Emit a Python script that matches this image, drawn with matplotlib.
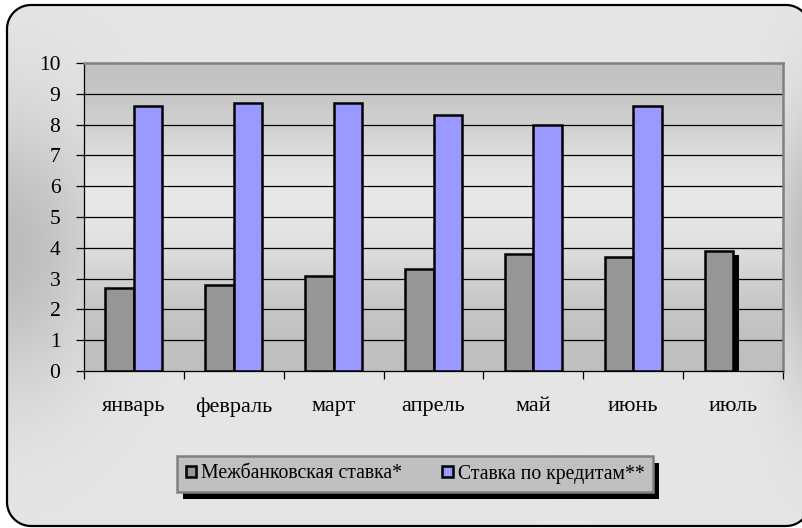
import numpy as np
import matplotlib
matplotlib.use("Agg")
import matplotlib.pyplot as plt
from matplotlib.patches import Polygon, Rectangle
from matplotlib.transforms import ScaledTranslation, IdentityTransform

# ---- data ----
months = ["январь", "февраль", "март", "апрель", "май", "июнь", "июль"]
interbank = [2.7, 2.8, 3.1, 3.3, 3.8, 3.7, 3.9]
credit = [8.6, 8.7, 8.7, 8.3, 8.0, 8.6, None]
series_names = ["Межбанковская ставка*", "Ставка по кредитам**"]
y_ticks = [0, 1, 2, 3, 4, 5, 6, 7, 8, 9, 10]

plt.rcParams['font.family'] = ['Liberation Serif', 'DejaVu Serif']
FSX = 16
FSY = 15.5
FSL = 14.2

W, H, DPI = 802, 528, 100
fig = plt.figure(figsize=(W / DPI, H / DPI), dpi=DPI)
fig.patch.set_facecolor("white")


def rounded_poly(x0, y0, w, h, r, n=24):
    pts = []
    corners = [(x0 + w - r, y0 + h - r, 0), (x0 + r, y0 + h - r, 90),
               (x0 + r, y0 + r, 180), (x0 + w - r, y0 + r, 270)]
    for cx, cy, a0 in corners:
        a = np.radians(np.linspace(a0, a0 + 90, n))
        pts.extend(zip(cx + r * np.cos(a), cy + r * np.sin(a)))
    return np.array(pts)


# ---- outer background with gradient and rounded frame (pixel coords, y up) ----
bg = fig.add_axes([0, 0, 1, 1], zorder=-10)
bg.set_xlim(0, W)
bg.set_ylim(0, H)
bg.axis("off")
xx, yy = np.meshgrid(np.arange(W), np.arange(H))  # yy = rows from top
vert = np.exp(-((yy - 250) / 140.0) ** 2)
horiz = np.maximum(np.exp(-((xx - 6) / 95.0) ** 2), np.exp(-((812 - xx) / 40.0) ** 2))
val = (230 - 42 * vert * horiz) / 255.0
img = np.dstack([val, val, val])
im = bg.imshow(img, extent=(0, W, 0, H), origin="upper", aspect="auto", zorder=0)
verts = rounded_poly(7, 2, 803, 521, 24)
clip = Polygon(verts, closed=True, facecolor="none", edgecolor="none",
               transform=bg.transData)
im.set_clip_path(clip)
frame = Polygon(verts, closed=True, facecolor="none", edgecolor="black",
                linewidth=1.6, zorder=2, clip_on=False)
bg.add_patch(frame)

# ---- main axes ----
ax = fig.add_axes([84 / W, 1 - 371 / H, (783 - 84) / W, (371 - 63) / H])
ax.set_xlim(-0.5, len(months) - 0.5)
ax.set_ylim(0, 10)

# plot-area gradient (dark top & bottom, light middle)
t = np.linspace(0, 1, 300)[:, None]
pv = (190 + 42 * np.exp(-((t - 0.45) / 0.28) ** 2)) / 255.0
pimg = np.dstack([pv, pv, pv])
ax.imshow(pimg, extent=(-0.5, len(months) - 0.5, 0, 10), aspect="auto",
          origin="upper", zorder=0)

bw = 1 / 3.5
x = np.arange(len(months))
shadow_tr = ax.transData + ScaledTranslation(6 / DPI, -4 / DPI, fig.dpi_scale_trans)
ax.bar(x - bw / 2, interbank, width=bw, color="black", linewidth=0,
       transform=shadow_tr, zorder=2)
b1 = ax.bar(x - bw / 2, interbank, width=bw, color="#969696", edgecolor="black",
            linewidth=1.8, zorder=3, label=series_names[0])
cx = [xi + bw / 2 for xi, v in zip(x, credit) if v is not None]
cv = [v for v in credit if v is not None]
b2 = ax.bar(cx, cv, width=bw, color="#9999FF", edgecolor="black",
            linewidth=1.8, zorder=4, label=series_names[1])

ax.set_yticks(y_ticks)
ax.set_yticklabels([str(v) for v in y_ticks], fontsize=FSY)
for v in y_ticks[1:-1]:
    ax.axhline(v, color="black", linewidth=0.9, zorder=1)

ax.set_xticks(x)
ax.set_xticklabels(months, fontsize=FSX)
ax.set_xticks(np.arange(-0.5, len(months), 1), minor=True)
ax.tick_params(axis="x", which="major", length=0, pad=19)
ax.tick_params(axis="x", which="minor", length=6, width=0.9, direction="out")
ax.tick_params(axis="y", length=6, width=0.9, direction="out", pad=11)

for s in ["left", "bottom"]:
    ax.spines[s].set_color("black")
    ax.spines[s].set_linewidth(0.9)
for s in ["top", "right"]:
    ax.spines[s].set_color("#808080")
    ax.spines[s].set_linewidth(1.8)
ax.set_zorder(1)

leg = fig.legend(handles=[b1, b2], labels=series_names, loc="center",
                 bbox_to_anchor=(415 / W, 1 - 474 / H), ncol=2, fontsize=FSL,
                 frameon=True, fancybox=False, handlelength=0.55, handleheight=0.55,
                 handletextpad=0.25, columnspacing=2.0, borderpad=0.45,
                 borderaxespad=0)
leg.get_frame().set_facecolor("#C0C0C0")
leg.get_frame().set_edgecolor("#808080")
leg.get_frame().set_linewidth(1.8)
leg.get_frame().set_alpha(1)
leg.set_zorder(5)

fig.canvas.draw()
bb = leg.get_window_extent()
sh = Rectangle((bb.x0 + 6, bb.y0 - 7), bb.width, bb.height, facecolor="black",
               edgecolor="none", transform=IdentityTransform(), zorder=4)
fig.add_artist(sh)

fig.savefig("out.png", dpi=DPI)
